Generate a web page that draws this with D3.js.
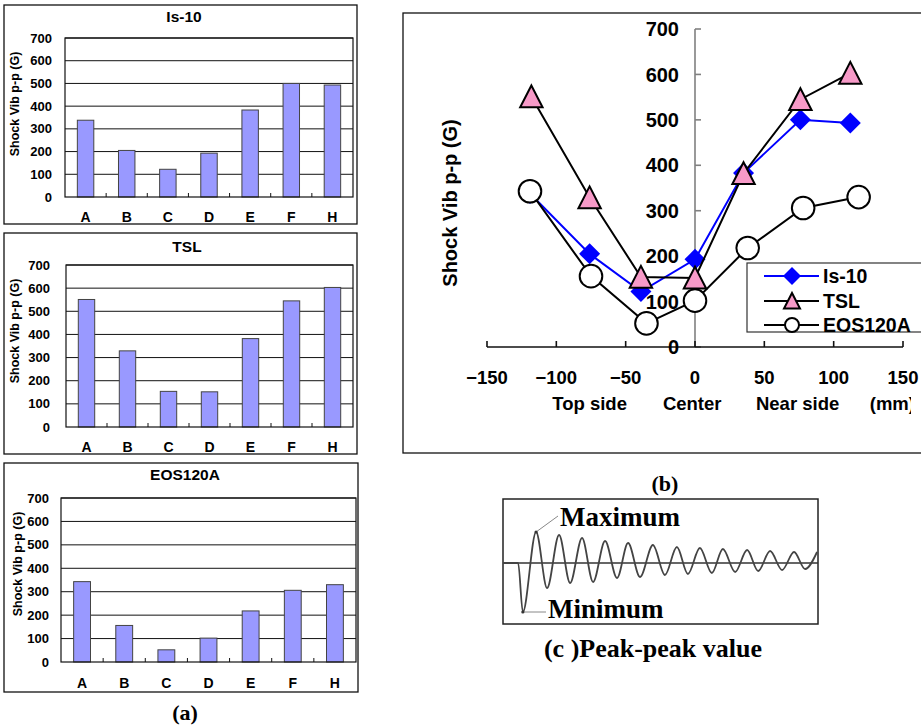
<!DOCTYPE html>
<html>
  <head>
    <meta charset="utf-8">
    <script src="https://d3js.org/d3.v7.min.js"></script>
    <style>
      body { margin: 0; background: #fff; }
      svg { display: block; }
      .sans { font-family: "Liberation Sans", Arial, sans-serif; font-weight: bold; }
      .serif { font-family: "Liberation Serif", "Times New Roman", serif; font-weight: bold; }
    </style>
  </head>
<body>
  <script type="text/javascript">

  // ---- data ----
  var categories = ["A", "B", "C", "D", "E", "F", "H"];
  var is10 = [338, 205, 122, 193, 383, 500, 493];
  var tsl  = [551, 329, 154, 152, 382, 545, 603];
  var eos  = [343, 156, 52, 102, 218, 306, 330];

  // sensor positions (mm) used in panel (b)
  var posIs10 = [-119, -76, -39, 0, 35, 76, 112];
  var posTsl  = [-118, -76, -39, 0, 35, 76, 112];
  var posEos  = [-119, -75, -35, 0, 38, 78, 118];

  var yTicks = [0, 100, 200, 300, 400, 500, 600, 700];
  var xTicksB = [-150, -100, -50, 0, 50, 100, 150];
  var sideLabels = ["Top side", "Center", "Near side", "(mm)"];
  var sidePos = [-76, -2, 74, 126];

  // panel (c) waveform extrema (time 0-100, amplitude -1..1)
  var waveT = [0, 4.8, 6.3, 10.5, 14.0, 17.8, 21.3, 25.1, 28.6, 32.4, 36.2, 39.7, 43.5, 47.6,
               51.4, 55.2, 58.7, 62.5, 66.3, 69.8, 73.7, 77.5, 81.0, 84.8, 88.6, 92.4, 95.9, 99.7];
  var waveA = [0, 0, -0.98, 0.62, -0.50, 0.56, -0.40, 0.50, -0.38, 0.44, -0.30, 0.40, -0.28, 0.36,
               -0.24, 0.32, -0.22, 0.30, -0.20, 0.28, -0.18, 0.26, -0.16, 0.24, -0.14, 0.22, -0.12, 0.22];

  var svg = d3.select("body").append("svg")
      .attr("width", 921)
      .attr("height", 727);

  // ---- (a) three bar charts ----
  var panels = [
    {title: "Is-10",   values: is10, box: [4, 5, 357, 224],   plot: [65, 38, 353, 197],  titleX: 184, titleY: 17,  catY: 217, tickX: 52, yTitle: [15, 104]},
    {title: "TSL",     values: tsl,  box: [4, 233, 357, 454], plot: [66, 265, 353, 427], titleX: 187, titleY: 247, catY: 447, tickX: 50, yTitle: [15, 331]},
    {title: "EOS120A", values: eos,  box: [4, 463, 358, 692], plot: [61, 498, 356, 662], titleX: 185, titleY: 475, catY: 683, tickX: 49, yTitle: [18, 564]}
  ];

  panels.forEach(function(p) {
    var g = svg.append("g");
    g.append("rect")
      .attr("x", p.box[0]).attr("y", p.box[1])
      .attr("width", p.box[2] - p.box[0]).attr("height", p.box[3] - p.box[1])
      .attr("fill", "white").attr("stroke", "#111").attr("stroke-width", 1.3);

    var x = d3.scaleBand().domain(categories).range([p.plot[0], p.plot[2]]).paddingInner(0.6).paddingOuter(0.3);
    var xb = d3.scaleBand().domain(categories).range([p.plot[0], p.plot[2]]);
    var y = d3.scaleLinear().domain([0, 700]).range([p.plot[3], p.plot[1]]);

    g.selectAll(".grid").data(yTicks.slice(1)).enter().append("line")
      .attr("x1", p.plot[0]).attr("x2", p.plot[2])
      .attr("y1", function(d) { return y(d); }).attr("y2", function(d) { return y(d); })
      .attr("stroke", "#111").attr("stroke-width", 1);

    g.selectAll(".bar").data(p.values).enter().append("rect")
      .attr("x", function(d, i) { return x(categories[i]); })
      .attr("width", x.bandwidth())
      .attr("y", function(d) { return y(d); })
      .attr("height", function(d) { return y(0) - y(d); })
      .attr("fill", "#9999ff").attr("stroke", "#444").attr("stroke-width", 1);

    g.append("rect")
      .attr("x", p.plot[0]).attr("y", p.plot[1])
      .attr("width", p.plot[2] - p.plot[0]).attr("height", p.plot[3] - p.plot[1])
      .attr("fill", "none").attr("stroke", "#111").attr("stroke-width", 1.2);

    // little ticks between categories
    g.selectAll(".ctick").data(categories.slice(1)).enter().append("line")
      .attr("x1", function(d) { return xb(d); }).attr("x2", function(d) { return xb(d); })
      .attr("y1", y(0)).attr("y2", y(0) - 4)
      .attr("stroke", "#111");

    g.selectAll(".ylab").data(yTicks).enter().append("text")
      .attr("class", "sans")
      .attr("x", p.tickX).attr("y", function(d) { return y(d); })
      .attr("dy", "0.35em").attr("text-anchor", "end")
      .attr("font-size", 13)
      .text(function(d) { return d; });

    g.selectAll(".clab").data(categories).enter().append("text")
      .attr("class", "sans")
      .attr("x", function(d) { return xb(d) + xb.bandwidth() / 2; })
      .attr("y", p.catY).attr("dy", "0.35em").attr("text-anchor", "middle")
      .attr("font-size", 14)
      .text(function(d) { return d; });

    g.append("text").attr("class", "sans")
      .attr("x", p.titleX).attr("y", p.titleY).attr("dy", "0.35em")
      .attr("text-anchor", "middle").attr("font-size", 15.5)
      .text(p.title);

    g.append("text").attr("class", "sans")
      .attr("transform", "translate(" + p.yTitle[0] + "," + p.yTitle[1] + ") rotate(-90)")
      .attr("dy", "0.35em").attr("text-anchor", "middle").attr("font-size", 12.5)
      .text("Shock Vib p-p (G)");
  });

  svg.append("text").attr("class", "serif")
    .attr("x", 185).attr("y", 712).attr("dy", "0.35em")
    .attr("text-anchor", "middle").attr("font-size", 22)
    .text("(a)");

  // ---- (b) line chart ----
  var gb = svg.append("g");
  gb.append("rect")
    .attr("x", 403).attr("y", 13).attr("width", 540).attr("height", 440)
    .attr("fill", "white").attr("stroke", "#111").attr("stroke-width", 1.3);

  var bx = d3.scaleLinear().domain([-150, 150]).range([487, 903]);
  var by = d3.scaleLinear().domain([0, 700]).range([347, 29]);

  // y axis (grey, ticks to the right)
  gb.append("line").attr("x1", bx(0)).attr("x2", bx(0)).attr("y1", by(0)).attr("y2", by(700))
    .attr("stroke", "#808080").attr("stroke-width", 1.6);
  gb.selectAll(".yt").data(yTicks).enter().append("line")
    .attr("x1", bx(0)).attr("x2", bx(0) + 6)
    .attr("y1", function(d) { return by(d); }).attr("y2", function(d) { return by(d); })
    .attr("stroke", "#808080").attr("stroke-width", 1.6);

  // x axis (black, ticks upward)
  gb.append("line").attr("x1", bx(-150)).attr("x2", bx(150)).attr("y1", by(0)).attr("y2", by(0))
    .attr("stroke", "#111").attr("stroke-width", 1.6);
  gb.selectAll(".xt").data(xTicksB).enter().append("line")
    .attr("x1", function(d) { return bx(d); }).attr("x2", function(d) { return bx(d); })
    .attr("y1", by(0)).attr("y2", by(0) - 6)
    .attr("stroke", "#111").attr("stroke-width", 1.6);

  var series = [
    {name: "Is-10", pos: posIs10, values: is10, color: "#0000ff", shape: "diamond", fill: "#0000ff"},
    {name: "TSL", pos: posTsl, values: tsl, color: "#000", shape: "triangle", fill: "#f79ac8"},
    {name: "EOS120A", pos: posEos, values: eos, color: "#000", shape: "circle", fill: "#fff"}
  ];

  function marker(g, shape, cx, cy, s, fill, stroke) {
    if (shape === "circle") {
      g.append("circle").attr("cx", cx).attr("cy", cy).attr("r", s)
        .attr("fill", fill).attr("stroke", stroke).attr("stroke-width", 2);
    } else if (shape === "diamond") {
      g.append("path")
        .attr("d", "M" + cx + "," + (cy - s) + "L" + (cx + s) + "," + cy + "L" + cx + "," + (cy + s) + "L" + (cx - s) + "," + cy + "Z")
        .attr("fill", fill);
    } else {
      g.append("path")
        .attr("d", "M" + cx + "," + (cy - s) + "L" + (cx + s) + "," + (cy + s * 0.95) + "L" + (cx - s) + "," + (cy + s * 0.95) + "Z")
        .attr("fill", fill).attr("stroke", stroke).attr("stroke-width", 2).attr("stroke-linejoin", "miter");
    }
  }

  var line = d3.line()
    .x(function(d) { return bx(d[0]); })
    .y(function(d) { return by(d[1]); });

  var sizes = {diamond: 10.5, triangle: 11.2, circle: 11.3};

  series.forEach(function(s) {
    var pts = s.pos.map(function(p, i) { return [p, s.values[i]]; });
    gb.append("path").datum(pts).attr("d", line)
      .attr("fill", "none").attr("stroke", s.color).attr("stroke-width", 2);
    pts.forEach(function(d) {
      marker(gb, s.shape, bx(d[0]), by(d[1]), sizes[s.shape], s.fill, "#000");
    });
  });

  gb.selectAll(".byl").data(yTicks).enter().append("text")
    .attr("class", "sans")
    .attr("x", 679).attr("y", function(d) { return by(d); })
    .attr("dy", "0.36em").attr("text-anchor", "end").attr("font-size", 20)
    .text(function(d) { return d; });

  gb.selectAll(".bxl").data(xTicksB).enter().append("text")
    .attr("class", "sans")
    .attr("x", function(d) { return bx(d); }).attr("y", 377)
    .attr("dy", "0.36em").attr("text-anchor", "middle").attr("font-size", 18.5)
    .text(function(d) { return d < 0 ? "\u2212" + (-d) : d; });

  // the "(mm)" label is cut off at the right in the original
  var clip = svg.append("clipPath").attr("id", "bclip");
  clip.append("rect").attr("x", 403).attr("y", 13).attr("width", 508).attr("height", 440);

  var gx = gb.append("g").attr("clip-path", "url(#bclip)");
  gx.selectAll(".side").data(sideLabels).enter().append("text")
    .attr("class", "sans")
    .attr("x", function(d, i) { return bx(sidePos[i]); }).attr("y", 403)
    .attr("dy", "0.36em")
    .attr("text-anchor", function(d, i) { return i === 3 ? "start" : "middle"; })
    .attr("font-size", 18.5)
    .text(function(d) { return d; });

  gb.append("text").attr("class", "sans")
    .attr("transform", "translate(450,203) rotate(-90)")
    .attr("dy", "0.36em").attr("text-anchor", "middle").attr("font-size", 20)
    .text("Shock Vib p-p (G)");

  // legend
  var lg = gb.append("g");
  lg.append("rect").attr("x", 747).attr("y", 263).attr("width", 200).attr("height", 69)
    .attr("fill", "white").attr("stroke", "#333").attr("stroke-width", 1.2);
  var legY = [276, 301, 325];
  var legSize = {diamond: 9, triangle: 8, circle: 7};
  series.forEach(function(s, i) {
    lg.append("line").attr("x1", 764).attr("x2", 819).attr("y1", legY[i]).attr("y2", legY[i])
      .attr("stroke", s.color).attr("stroke-width", 2);
    marker(lg, s.shape, 792, legY[i], legSize[s.shape], s.fill, "#000");
    lg.append("text").attr("class", "sans")
      .attr("x", 823).attr("y", legY[i]).attr("dy", "0.36em")
      .attr("font-size", 19.5)
      .text(s.name);
  });

  svg.append("text").attr("class", "serif")
    .attr("x", 665).attr("y", 483).attr("dy", "0.35em")
    .attr("text-anchor", "middle").attr("font-size", 22)
    .text("(b)");

  // ---- (c) peak-peak sketch ----
  var gc = svg.append("g");
  gc.append("rect").attr("x", 503).attr("y", 499).attr("width", 315).attr("height", 125)
    .attr("fill", "white").attr("stroke", "#222").attr("stroke-width", 1.5);

  var wx = d3.scaleLinear().domain([0, 100]).range([503, 818]);
  var wy = d3.scaleLinear().domain([-1, 1]).range([613, 513]);

  gc.append("line").attr("x1", wx(0)).attr("x2", wx(100)).attr("y1", wy(0)).attr("y2", wy(0))
    .attr("stroke", "#333").attr("stroke-width", 1.5);

  var wave = d3.line().curve(d3.curveMonotoneX)
    .x(function(d, i) { return wx(waveT[i]); })
    .y(function(d, i) { return wy(waveA[i]); });
  gc.append("path").datum(waveT).attr("d", wave)
    .attr("fill", "none").attr("stroke", "#444").attr("stroke-width", 1.8);

  // leaders for max and min
  var iMax = 3, iMin = 2;
  gc.append("line").attr("x1", wx(waveT[iMax])).attr("y1", wy(waveA[iMax]))
    .attr("x2", 558).attr("y2", 516).attr("stroke", "#888").attr("stroke-width", 1);
  gc.append("line").attr("x1", wx(waveT[iMin])).attr("y1", wy(waveA[iMin]))
    .attr("x2", 546).attr("y2", wy(waveA[iMin])).attr("stroke", "#888").attr("stroke-width", 1);
  gc.append("circle").attr("cx", wx(waveT[iMax])).attr("cy", wy(waveA[iMax])).attr("r", 1.6).attr("fill", "#333");
  gc.append("circle").attr("cx", wx(waveT[iMin])).attr("cy", wy(waveA[iMin])).attr("r", 1.6).attr("fill", "#333");

  gc.append("text").attr("class", "serif").attr("x", 560).attr("y", 526)
    .attr("font-size", 27).text("Maximum");
  gc.append("text").attr("class", "serif").attr("x", 548).attr("y", 618)
    .attr("font-size", 27).text("Minimum");

  svg.append("text").attr("class", "serif")
    .attr("x", 653).attr("y", 648).attr("dy", "0.35em")
    .attr("text-anchor", "middle").attr("font-size", 26)
    .text("(c )Peak-peak value");

  </script>
</body>
</html>
